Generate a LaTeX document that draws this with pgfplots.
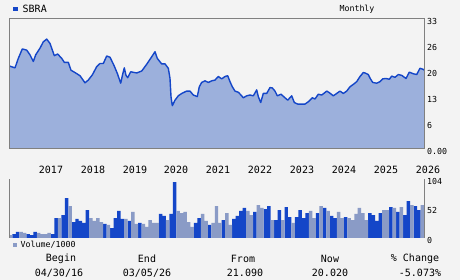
\documentclass[border=0pt]{standalone}
\usepackage{pgfplots}
\pgfplotsset{compat=1.18}
\usepackage{pgfplotstable}
\usepackage{fontspec}
\setmainfont{DejaVu Sans Mono}
\definecolor{bgc}{HTML}{F3F3F3}
\definecolor{fillc}{HTML}{9CB0DC}
\definecolor{linec}{HTML}{1446C8}
\definecolor{darkbar}{HTML}{1446C8}
\definecolor{lightbar}{HTML}{8A9BC6}
\definecolor{gridc}{HTML}{808080}
\pgfplotsset{
  layers/mylayers/.define layer set={axis background,axis grid,pre main,main,axis ticks,axis lines,axis tick labels,axis descriptions,axis foreground}{/pgfplots/layers/standard},
}
\pgfplotstableread{
x y
0 21.1
6 20.6
9.3 23.0
13.3 25.4
17.7 25.1
21 23.9
24.3 22.2
26.7 23.9
31 25.6
34.3 27.2
37.7 27.9
41 26.8
45.3 23.7
48.7 24.1
52.7 23.0
55.3 22.0
59.3 22.0
62 20.0
66 19.4
71 18.6
76 16.8
79.3 17.5
83.3 18.8
87.7 20.9
91 21.7
94.3 21.7
97.7 23.6
101 23.3
105 21.2
108.3 19.2
111.7 16.7
113.7 19.0
115.3 20.6
117 18.7
118.7 18.1
121.7 19.6
127.7 19.3
132.7 19.8
137.7 21.5
142.7 23.4
146 24.7
148.3 23.0
152.7 21.6
156 21.6
159.3 20.5
161 17.9
162 13.3
163.3 11.0
166 12.4
169.3 13.5
172.7 14.1
177.7 14.7
181 14.7
184.3 13.7
188.3 13.3
190.3 15.8
192.7 16.9
196 17.3
199.3 16.9
202.7 17.3
206 17.5
209.3 18.4
212.7 17.8
216 18.4
218.7 18.6
221 17.1
223.3 15.8
226 14.7
229.3 14.4
232 13.7
234.3 13.0
237.7 13.5
241 13.7
244.3 13.5
247.7 15.0
249.3 13.3
251.7 11.8
254.3 14.1
257.7 14.1
261 15.6
263.3 15.5
266 14.7
268.3 13.5
272 13.9
276 13.0
278.7 12.4
282.7 13.5
285.3 11.8
288.7 11.4
296 11.4
299.3 12.0
303.3 13.0
306 12.7
309.3 13.9
312.7 13.7
315.3 14.2
317.7 14.7
320.3 14.3
324.3 13.5
327.7 14.1
331 14.7
334.3 14.1
337.7 14.7
341 15.8
344.3 16.4
347.7 17.1
351 18.4
354.3 19.4
356 19.3
359.3 18.9
361 18.0
363.7 16.9
367.7 16.7
371 17.1
373.7 17.8
377 17.9
380.3 17.7
382.7 18.5
386 18.2
389.3 18.9
392.7 18.7
397 17.9
400.3 19.5
404.3 19.1
407.7 18.9
411 20.5
414.3 20.2
415 20.0
}\price
\pgfplotstableread{
x y
1.5 7
2.5 10.6
5.5 7
6.5 5
7.5 10.6
12.5 7
13.5 35
15.5 40.5
16.5 70.5
18.5 28
19.5 33.5
20.5 30
21.5 26.5
22.5 49
27.5 24.7
29.5 17.6
30.5 35
31.5 47.6
32.5 33.5
34.5 30
37.5 26.5
43.5 42.3
44.5 38.8
46.5 42.3
47.5 98.7
53.5 26.5
54.5 35
57.5 23
61.5 31.7
64.5 33.5
65.5 38.8
66.5 47.6
67.5 53
70.5 46
73.5 51
74.5 56
76.5 31.7
77.5 49
79.5 54.6
80.5 37
82.5 37
83.5 49
84.5 35
85.5 44
88.5 44
90.5 53
92.5 38.8
93.5 35
96.5 37
103.5 44
104.5 40.5
105.5 30
106.5 44
109.5 54.6
111.5 46
113.5 40.5
114.5 65
116.5 56
117.5 49
}\voldark
\pgfplotstableread{
x y
0.5 5
3.5 10.6
4.5 9
8.5 9
9.5 7
10.5 7
11.5 9
14.5 35
17.5 56
23.5 35
24.5 30
25.5 35
26.5 28
28.5 23
33.5 33.5
35.5 46
36.5 24.7
38.5 24.7
39.5 19.4
40.5 31.7
41.5 26.5
42.5 26.5
45.5 31.7
48.5 47.6
49.5 44
50.5 46
51.5 28
52.5 19.4
55.5 42.3
56.5 30
58.5 26.5
59.5 56
60.5 26.5
62.5 44
63.5 23
68.5 47.6
69.5 40.5
71.5 58
72.5 53
75.5 31.7
78.5 31.7
81.5 26.5
86.5 47.6
87.5 35
89.5 56
91.5 47.6
94.5 46
95.5 35
97.5 35
98.5 31.7
99.5 42.3
100.5 53
101.5 44
102.5 31.7
107.5 49
108.5 49
110.5 53
112.5 54.6
115.5 58
118.5 58
}\vollight
\begin{document}
\begin{tikzpicture}
\fill[bgc] (0pt,0pt) rectangle (460pt,280pt);
\begin{axis}[
  set layers=mylayers,
  at={(9pt,131pt)}, anchor=south west,
  scale only axis, width=415pt, height=130pt,
  xmin=0, xmax=415, ymin=0, ymax=33,
  axis line style={gridc, line width=1pt},
  major tick length=0pt,
  xtick={36,78,120,161,203,245,287,329,371,413},
  xticklabels={2017,2018,2019,2020,2021,2022,2023,2024,2025,2026},
  xticklabel style={anchor=center, xshift=6pt, yshift=-21pt, font=\fontsize{10}{12}\selectfont},
  ytick={0,6.6,13.2,19.8,26.4,33},
  yticklabels={0.00,6,13,20,26,33},
  yticklabel pos=right,
  yticklabel style={anchor=west, inner sep=0pt, xshift=3pt, yshift=-2pt, font=\fontsize{8.3}{10}\selectfont},
  ymajorgrids, grid style={gridc, line width=1pt},
]
\addplot[fill=fillc, draw=none] table {\price} \closedcycle;
\addplot[linec, line width=1.4pt, line join=round] table {\price};
\end{axis}
\begin{axis}[
  set layers=mylayers,
  at={(9pt,42pt)}, anchor=south west,
  scale only axis, width=415pt, height=59pt,
  xmin=0, xmax=119, ymin=0, ymax=104,
  separate axis lines,
  axis line style={gridc, line width=1pt},
  every outer x axis line/.append style={draw=none},
  every outer y axis line/.append style={gridc, line width=1pt},
  major tick length=0pt,
  xtick=\empty,
  ytick={0,52,104},
  yticklabels={0,52,104},
  yticklabel pos=right,
  yticklabel style={anchor=west, inner sep=0pt, xshift=3pt, yshift=-2pt, font=\fontsize{8.3}{10}\selectfont},
  ymajorgrids, grid style={gridc, line width=1pt},
  ybar, bar width=1, bar shift=0pt,
]
\addplot[fill=darkbar, draw=none] table {\voldark};
\addplot[fill=lightbar, draw=none] table {\vollight};
\end{axis}
% header
\fill[linec] (13.3pt,268.7pt) rectangle (17.5pt,273.3pt);
\node[anchor=west, inner sep=0pt, font=\fontsize{10}{12}\selectfont] at (22.5pt,271pt) {SBRA};
\node[anchor=center, inner sep=0pt, font=\fontsize{8.3}{10}\selectfont] at (357pt,271pt) {Monthly};
% volume legend
\fill[lightbar] (12.7pt,32.5pt) rectangle (17.3pt,37pt);
\node[anchor=west, inner sep=0pt, font=\fontsize{8.3}{10}\selectfont] at (20.5pt,35pt) {Volume/1000};
% footer
\begin{scope}[every node/.style={anchor=center, inner sep=0pt, font=\fontsize{10}{12}\selectfont}]
\node at (61pt,21pt) {Begin};
\node at (59pt,7pt) {04/30/16};
\node at (147pt,21pt) {End};
\node at (147pt,7pt) {03/05/26};
\node at (243pt,21pt) {From};
\node at (245pt,7pt) {21.090};
\node at (330pt,21pt) {Now};
\node at (330pt,7pt) {20.020};
\node at (415pt,21pt) {\% Change};
\node at (420pt,7pt) {-5.073\%};
\end{scope}
\pgfresetboundingbox
\path[use as bounding box] (0pt,0pt) rectangle (460pt,280pt);
\end{tikzpicture}
\end{document}
